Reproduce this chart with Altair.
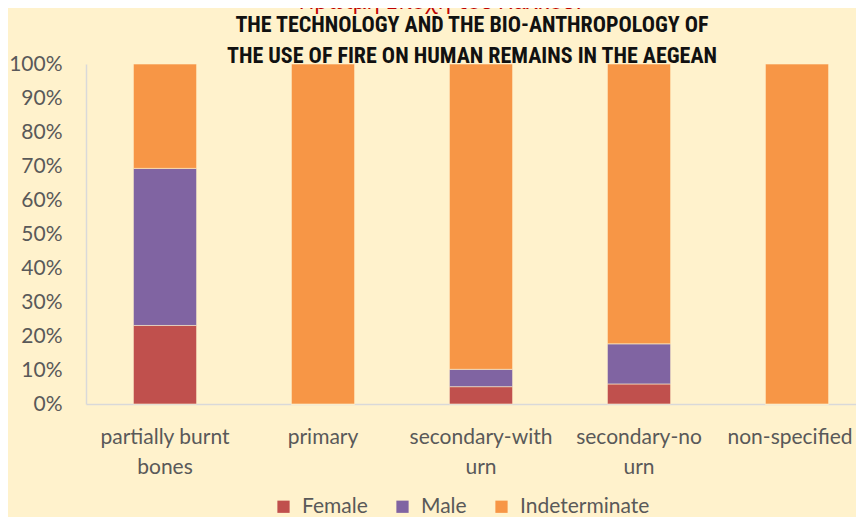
import altair as alt
import pandas as pd

categories = ["partially burnt|bones", "primary", "secondary-with|urn", "secondary-no|urn", "non-specified"]
series = ["Female", "Male", "Indeterminate"]
female = [23.1, 0.0, 5.1, 5.9, 0.0]
male = [46.2, 0.0, 5.1, 11.8, 0.0]
indeterminate = [30.7, 100.0, 89.8, 82.3, 100.0]
colors = ["#C0504D", "#8064A2", "#F79646"]
y_ticks = [0, 10, 20, 30, 40, 50, 60, 70, 80, 90, 100]
red_title = "Πρώιμη Εποχή του Χαλκού:"
title_line1 = "THE TECHNOLOGY AND THE BIO-ANTHROPOLOGY OF"
title_line2 = "THE USE OF FIRE ON HUMAN REMAINS IN THE AEGEAN"

rows = []
for i, c in enumerate(categories):
    for k, (s, vals) in enumerate(zip(series, [female, male, indeterminate])):
        rows.append({"category": c, "series": s, "value": vals[i], "order": k})
df = pd.DataFrame(rows)

FONT = "Lato"
GRAY = "#595959"
BG = "#FFF2CC"
TFONT = "Roboto Condensed, Open Sans Condensed, DejaVu Sans Condensed, sans-serif"

bars = alt.Chart(df).mark_bar(stroke=BG, strokeWidth=0.6).encode(
    x=alt.X(
        "category:N",
        sort=categories,
        scale=alt.Scale(range=[0, 790], paddingInner=0.6, paddingOuter=0.3),
        axis=alt.Axis(
            title=None, labelAngle=0, labelExpr="split(datum.label, '|')",
            ticks=False, domainColor="#D9D9D9", domainWidth=1.5,
            labelFont=FONT, labelFontSize=21, labelColor=GRAY,
            labelPadding=22, labelLineHeight=30, labelOverlap=False,
            labelBound=False, labelFlush=False,
            labelOffset={"condition": {"test": "datum.value == 'non-specified'", "value": -7}, "value": 0},
        ),
    ),
    y=alt.Y(
        "value:Q",
        stack="zero",
        scale=alt.Scale(domain=[0, 100], nice=False),
        axis=alt.Axis(
            title=None, values=y_ticks, labelExpr="datum.value + '%'",
            grid=False, ticks=False, domainColor="#D9D9D9", domainWidth=1.5,
            labelFont=FONT, labelFontSize=21, labelColor=GRAY, labelPadding=24,
        ),
    ),
    color=alt.Color(
        "series:N",
        scale=alt.Scale(domain=series, range=colors),
        legend=alt.Legend(
            title=None, orient="none", direction="horizontal",
            legendX=187, legendY=432, symbolType="square", symbolSize=150,
            symbolStrokeWidth=0, labelFont=FONT, labelFontSize=21,
            labelColor=GRAY, labelOffset=8, columnPadding=24,
        ),
    ),
    order=alt.Order("order:Q"),
)

red = alt.Chart(pd.DataFrame({"t": [red_title]})).mark_text(
    font="Noto Sans", fontSize=22, color="#C00000", baseline="alphabetic", align="center"
).encode(x=alt.value(354), y=alt.value(-55), text="t:N")

t1 = alt.Chart(pd.DataFrame({"t": [title_line1]})).mark_text(
    font=TFONT, fontSize=22, fontWeight="bold", color="#111111",
    baseline="alphabetic", align="center"
).encode(x=alt.value(386), y=alt.value(-32), text="t:N")

t2 = alt.Chart(pd.DataFrame({"t": [title_line2]})).mark_text(
    font=TFONT, fontSize=22, fontWeight="bold", color="#111111",
    baseline="alphabetic", align="center"
).encode(x=alt.value(386), y=alt.value(-1), text="t:N")

chart = alt.layer(bars, red, t1, t2).properties(
    width=770, height=340,
    padding={"left": 78, "top": 56, "right": 0, "bottom": 113},
    autosize=alt.AutoSizeParams(type="none"),
    background=BG,
).configure_view(stroke=None)

chart.save("out.html", embed_options={"renderer": "svg", "actions": False})
